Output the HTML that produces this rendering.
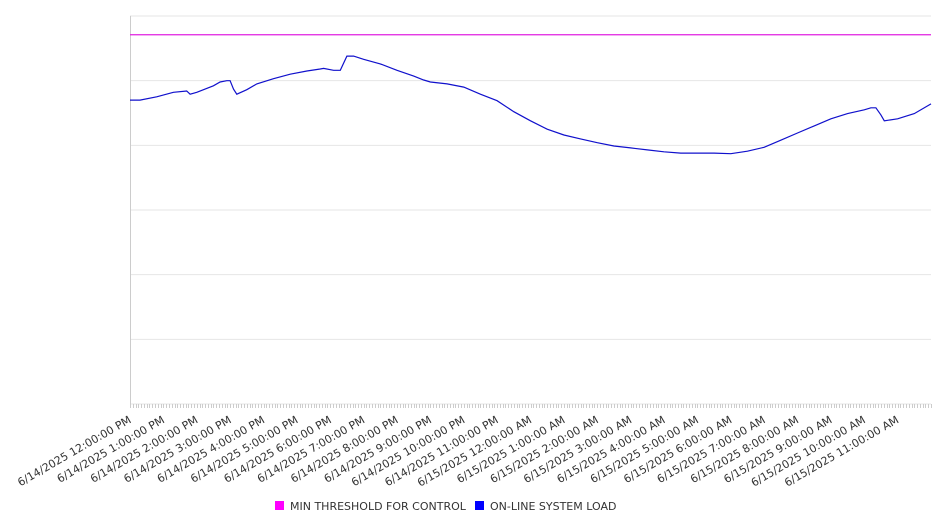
<!DOCTYPE html>
<html><head><meta charset="utf-8"><style>
body{margin:0;background:#fff;font-family:"DejaVu Sans","Liberation Sans",sans-serif}
</style></head><body>
<svg id="chart" width="946" height="526" xmlns="http://www.w3.org/2000/svg" font-family="DejaVu Sans, Liberation Sans, sans-serif">
<g id="grid"></g><g id="ticks"></g><g id="series"></g><g id="labels"></g>
<g font-size="11" fill="#333">
 <g><rect x="275" y="501" width="9" height="9" fill="#ff00ff"/><text x="290" y="510">MIN THRESHOLD FOR CONTROL</text></g>
 <g><rect x="475" y="501" width="9" height="9" fill="#0000ff"/><text x="490" y="510">ON-LINE SYSTEM LOAD</text></g>
</g>
</svg>
<script>
const hourLabels=["6/14/2025 12:00:00 PM","6/14/2025 1:00:00 PM","6/14/2025 2:00:00 PM","6/14/2025 3:00:00 PM","6/14/2025 4:00:00 PM","6/14/2025 5:00:00 PM","6/14/2025 6:00:00 PM","6/14/2025 7:00:00 PM","6/14/2025 8:00:00 PM","6/14/2025 9:00:00 PM","6/14/2025 10:00:00 PM","6/14/2025 11:00:00 PM","6/15/2025 12:00:00 AM","6/15/2025 1:00:00 AM","6/15/2025 2:00:00 AM","6/15/2025 3:00:00 AM","6/15/2025 4:00:00 AM","6/15/2025 5:00:00 AM","6/15/2025 6:00:00 AM","6/15/2025 7:00:00 AM","6/15/2025 8:00:00 AM","6/15/2025 9:00:00 AM","6/15/2025 10:00:00 AM","6/15/2025 11:00:00 AM"];
const loadHours=[0,0.3,0.8,1.3,1.7,1.8,2.0,2.5,2.7,2.9,3.0,3.1,3.2,3.5,3.8,4.3,4.8,5.3,5.7,5.8,6.1,6.3,6.5,6.7,7.0,7.5,8.0,8.5,8.8,9.0,9.5,10.0,10.5,11.0,11.5,12.0,12.5,13.0,13.5,14.0,14.5,15.0,15.5,16.0,16.5,17.0,17.5,18.0,18.5,19.0,19.5,20.0,20.5,21.0,21.5,22.0,22.2,22.35,22.5,22.6,23.0,23.5,24.0];
const loadValues=[470,470,475,482,484,479,482,492,498,500,500,487,479,486,495,503,510,515,518,519,516,516,538,538,533,526,516,507,501,498,495,490,479,469,452,438,425,416,410,404,399,396,393,390,388,388,388,387,391,397,408,419,430,441,449,455,458,458,447,438,441,449,464];
const thresholdValue=571;
const yMax=600, yStep=100;
const L=130,R=931,T=16,B=404;
const x=h=>L+h/24*(R-L);
const y=v=>B-v/yMax*(B-T);
const NS="http://www.w3.org/2000/svg";
function mk(t,a,p){const e=document.createElementNS(NS,t);for(const k in a)e.setAttribute(k,a[k]);p.appendChild(e);return e;}
const grid=document.getElementById('grid');
for(let v=0;v<=yMax;v+=yStep){const g=mk('line',{x1:L,x2:R,y1:y(v),y2:y(v),stroke:'#e6e6e6'},grid);

}
const ax=mk('line',{x1:L+0.5,x2:L+0.5,y1:T,y2:B,stroke:'#ccc'},grid);


const ticks=document.getElementById('ticks');
let d='';for(let i=0;i<=24*12;i++){const xx=Math.round(x(i/12))+0.5;d+=`M${xx} ${B}v4`;}
const tk=mk('path',{d:d,stroke:'#ccc','stroke-width':1},ticks);


const labels=document.getElementById('labels');
hourLabels.forEach((s,i)=>{const t=mk('text',{x:0,y:0,'text-anchor':'end','font-size':'11',fill:'#333',transform:`translate(${x(i)+2},${B+18}) rotate(-30)`},labels);t.textContent=s;

});
const series=document.getElementById('series');
const th=mk('line',{x1:L,x2:R,y1:y(thresholdValue),y2:y(thresholdValue),stroke:'#e020e0','stroke-width':1.2},series);


const pts=loadHours.map((h,i)=>x(h).toFixed(1)+','+y(loadValues[i]).toFixed(1)).join(' ');
const pl=mk('polyline',{points:pts,fill:'none',stroke:'#1010cc','stroke-width':1.2},series);


</script>
</body></html>
